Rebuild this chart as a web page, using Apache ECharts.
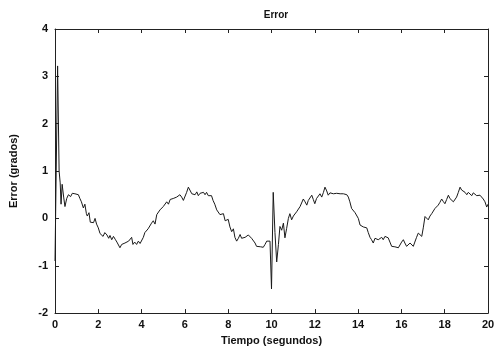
<!DOCTYPE html>
<html>
<head>
<meta charset="utf-8">
<script src="https://cdn.jsdelivr.net/npm/echarts@6/dist/echarts.min.js"></script>
<style>
  html, body { margin: 0; padding: 0; background: #fff; }
  #chart { width: 501px; height: 351px; }
</style>
</head>
<body>
<div id="chart"></div>
<script>
// tiempo (s) y error (grados)
var tiempos = [
  0.00, 0.12, 0.19, 0.24, 0.28, 0.33, 0.40, 0.46, 0.54, 0.62, 0.72, 0.80, 0.92,
  1.00, 1.08, 1.15, 1.22, 1.31, 1.38, 1.45, 1.49, 1.57, 1.63, 1.69, 1.78, 1.85, 1.92,
  2.00, 2.08, 2.15, 2.22, 2.30, 2.40, 2.48, 2.54, 2.62, 2.70, 2.78, 2.86, 2.93,
  3.00, 3.08, 3.15, 3.23, 3.30, 3.40, 3.47, 3.54, 3.60, 3.68, 3.77, 3.85, 3.93,
  4.00, 4.08, 4.15, 4.23, 4.30, 4.38, 4.46, 4.54, 4.62, 4.70, 4.78, 4.85, 4.93,
  5.00, 5.08, 5.16, 5.24, 5.32, 5.40, 5.46, 5.54, 5.62, 5.70, 5.77, 5.85, 5.93,
  6.00, 6.08, 6.16, 6.24, 6.32, 6.39, 6.47, 6.55, 6.62, 6.70, 6.78, 6.86, 6.93,
  7.00, 7.08, 7.16, 7.23, 7.30, 7.38, 7.47, 7.54, 7.62, 7.70, 7.78, 7.86, 7.93,
  8.00, 8.08, 8.16, 8.24, 8.31, 8.39, 8.47, 8.55, 8.62, 8.70, 8.78, 8.85, 8.93,
  9.00, 9.08, 9.16, 9.24, 9.31, 9.40, 9.50, 9.62, 9.70, 9.78, 9.86, 9.93,
  10.00, 10.08, 10.16, 10.24, 10.32, 10.39, 10.47, 10.55, 10.62, 10.70, 10.78, 10.85, 10.93,
  11.01, 11.09, 11.16, 11.24, 11.32, 11.40, 11.47, 11.55, 11.63, 11.70, 11.78, 11.86, 11.93,
  12.00, 12.08, 12.16, 12.24, 12.32, 12.40, 12.47, 12.55, 12.62, 12.70, 12.78, 12.86, 12.93,
  13.01, 13.09, 13.17, 13.24, 13.32, 13.40, 13.48, 13.55, 13.62, 13.70, 13.78, 13.86, 13.93,
  14.01, 14.09, 14.17, 14.24, 14.32, 14.40, 14.47, 14.55, 14.62, 14.70, 14.78, 14.86, 14.93,
  15.01, 15.09, 15.16, 15.24, 15.32, 15.39, 15.47, 15.55, 15.63, 15.70, 15.78, 15.86, 15.93,
  16.01, 16.09, 16.16, 16.24, 16.32, 16.40, 16.47, 16.55, 16.62, 16.70, 16.78, 16.86, 16.94,
  17.01, 17.09, 17.17, 17.24, 17.32, 17.40, 17.47, 17.55, 17.62, 17.70, 17.78, 17.86, 17.93,
  18.01, 18.09, 18.17, 18.24, 18.32, 18.40, 18.48, 18.55, 18.63, 18.71, 18.78, 18.86, 18.94,
  19.02, 19.09, 19.17, 19.25, 19.32, 19.40, 19.48, 19.55, 19.63, 19.70, 19.78, 19.86, 19.94, 20.00
];
var errores = [
  -0.90, 3.22, 1.00, 0.75, 0.30, 0.72, 0.45, 0.25, 0.42, 0.50, 0.46, 0.53, 0.52,
  0.48, 0.50, 0.42, 0.35, 0.22, 0.30, 0.10, 0.05, 0.12, -0.08, -0.10, -0.09, 0.00, -0.12,
  -0.20, -0.32, -0.28, -0.38, -0.30, -0.35, -0.42, -0.36, -0.45, -0.38, -0.44, -0.50, -0.52,
  -0.62, -0.55, -0.58, -0.52, -0.56, -0.48, -0.50, -0.40, -0.55, -0.50, -0.55, -0.48, -0.53,
  -0.50, -0.40, -0.30, -0.33, -0.22, -0.25, -0.10, -0.05, -0.12, 0.08, 0.05, 0.18, 0.15,
  0.25, 0.22, 0.35, 0.30, 0.40, 0.36, 0.42, 0.38, 0.45, 0.44, 0.50, 0.45, 0.38,
  0.42, 0.55, 0.66, 0.62, 0.52, 0.55, 0.50, 0.56, 0.48, 0.53, 0.50, 0.55, 0.50,
  0.55, 0.48, 0.52, 0.48, 0.38, 0.30, 0.18, 0.22, 0.08, 0.04, 0.10, -0.05, -0.08,
  -0.02, -0.18, -0.28, -0.22, -0.40, -0.48, -0.42, -0.34, -0.42, -0.45, -0.40, -0.44, -0.35,
  -0.38, -0.42, -0.44, -0.52, -0.59, -0.58, -0.60, -0.61, -0.55, -0.48, -0.45, -0.48,
  -1.49, 0.55, -0.30, -0.92, -0.55, -0.17, -0.25, -0.10, -0.41, -0.21, 0.00, 0.10, -0.03,
  0.05, 0.07, 0.14, 0.17, 0.25, 0.22, 0.41, 0.35, 0.28, 0.38, 0.35, 0.49, 0.40,
  0.31, 0.42, 0.40, 0.52, 0.45, 0.55, 0.66, 0.58, 0.49, 0.54, 0.50, 0.52, 0.48,
  0.53, 0.49, 0.52, 0.50, 0.52, 0.48, 0.50, 0.45, 0.35, 0.21, 0.25, 0.12, 0.10,
  0.00, -0.14, -0.10, -0.18, -0.15, -0.20, -0.30, -0.40, -0.45, -0.52, -0.42, -0.38, -0.45,
  -0.48, -0.40, -0.45, -0.38, -0.42, -0.41, -0.50, -0.59, -0.58, -0.60, -0.60, -0.62, -0.58,
  -0.50, -0.45, -0.52, -0.59, -0.55, -0.52, -0.55, -0.59, -0.50, -0.40, -0.31, -0.35, -0.38,
  -0.20, 0.04, 0.00, -0.03, 0.05, 0.10, 0.14, 0.21, 0.18, 0.28, 0.34, 0.41, 0.36,
  0.31, 0.40, 0.49, 0.42, 0.38, 0.35, 0.31, 0.45, 0.55, 0.66, 0.60, 0.56, 0.55,
  0.50, 0.55, 0.52, 0.48, 0.54, 0.52, 0.48, 0.52, 0.49, 0.45, 0.41, 0.35, 0.24, 0.30
];
var titulo = 'Error';
var nombreX = 'Tiempo (segundos)';
var nombreY = 'Error (grados)';

var datos = [];
for (var i = 0; i < tiempos.length; i++) {
  datos.push([tiempos[i], errores[i]]);
}

var fuente = { color: '#111', fontFamily: 'Liberation Sans, Arial', fontWeight: 'bold', fontSize: 11 };
var linea = { show: true, onZero: false, lineStyle: { color: '#222', width: 1 } };
var marca = { show: true, inside: true, length: 4, lineStyle: { color: '#222' } };

var chart = echarts.init(document.getElementById('chart'), null, { renderer: 'canvas' });
chart.setOption({
  backgroundColor: '#fff',
  animation: false,
  title: {
    text: titulo,
    left: 271, top: 5, textAlign: 'center',
    textStyle: { color: '#111', fontFamily: 'Liberation Sans, Arial', fontWeight: 'bold', fontSize: 10 }
  },
  grid: { left: 55, right: 13, top: 29, bottom: 33 },
  xAxis: [{
    type: 'value', min: 0, max: 20, interval: 2,
    name: nombreX, nameLocation: 'middle', nameGap: 20,
    nameTextStyle: fuente,
    axisLine: linea, axisTick: marca, splitLine: { show: false },
    axisLabel: Object.assign({ margin: 6 }, fuente)
  }, {
    type: 'value', min: 0, max: 20, interval: 2, position: 'top',
    axisLine: linea, axisTick: marca, splitLine: { show: false },
    axisLabel: { show: false }
  }],
  yAxis: [{
    type: 'value', min: -2, max: 4, interval: 1,
    name: nombreY, nameLocation: 'middle', nameGap: 36, nameRotate: 90,
    nameTextStyle: fuente,
    axisLine: linea, axisTick: marca, splitLine: { show: false },
    axisLabel: Object.assign({ margin: 7 }, fuente)
  }, {
    type: 'value', min: -2, max: 4, interval: 1, position: 'right',
    axisLine: linea, axisTick: marca, splitLine: { show: false },
    axisLabel: { show: false }
  }],
  series: [{
    type: 'line',
    data: datos,
    showSymbol: false,
    lineStyle: { color: '#1a1a1a', width: 1 },
    silent: true
  }]
});
</script>
</body>
</html>
